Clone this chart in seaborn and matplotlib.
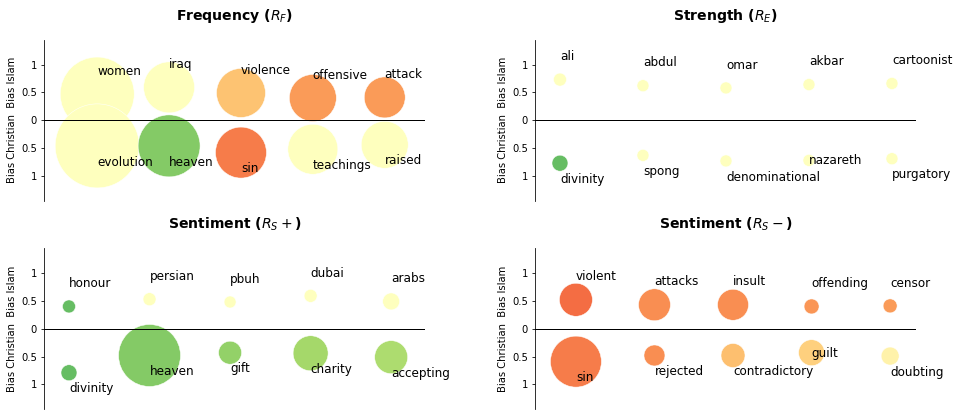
import pandas as pd
import seaborn as sns
import matplotlib.pyplot as plt

# Each panel: first five words lean Islam (positive bias), last five lean Christian (negative).
# size = relative word frequency (bubble area), sent = sentiment score used for colour
freq_words = ['women', 'iraq', 'violence', 'offensive', 'attack',
              'evolution', 'heaven', 'sin', 'teachings', 'raised']
freq_bias = [0.47, 0.59, 0.49, 0.40, 0.41, -0.46, -0.46, -0.58, -0.52, -0.44]
freq_size = [54.8, 26.0, 24.0, 22.1, 16.8, 70.6, 38.4, 26.0, 25.0, 22.1]
freq_sent = [0, 0, -0.32, -0.46, -0.46, 0, 0.5, -0.55, 0, 0]

strength_words = ['ali', 'abdul', 'omar', 'akbar', 'cartoonist',
                  'divinity', 'spong', 'denominational', 'nazareth', 'purgatory']
strength_bias = [0.73, 0.62, 0.58, 0.64, 0.66, -0.77, -0.63, -0.73, -0.72, -0.69]
strength_size = [1.69, 1.44, 1.44, 1.44, 1.44, 2.56, 1.44, 1.44, 1.44, 1.44]
strength_sent = [0, 0, 0, 0, 0, 0.6, 0, 0, 0, 0]

pos_words = ['honour', 'persian', 'pbuh', 'dubai', 'arabs',
             'divinity', 'heaven', 'gift', 'charity', 'accepting']
pos_bias = [0.40, 0.53, 0.48, 0.59, 0.49, -0.79, -0.48, -0.43, -0.44, -0.51]
pos_size = [1.69, 1.69, 1.44, 1.69, 2.89, 2.56, 38.4, 5.29, 12.25, 10.9]
pos_sent = [0.6, 0, 0, 0, 0, 0.6, 0.5, 0.46, 0.4, 0.37]

neg_words = ['violent', 'attacks', 'insult', 'offending', 'censor',
             'sin', 'rejected', 'contradictory', 'guilt', 'doubting']
neg_bias = [0.52, 0.43, 0.43, 0.40, 0.41, -0.59, -0.48, -0.48, -0.43, -0.49]
neg_size = [10.9, 10.2, 9.6, 2.25, 1.96, 26.0, 4.41, 5.76, 6.76, 3.24]
neg_sent = [-0.6, -0.5, -0.5, -0.47, -0.46, -0.55, -0.5, -0.33, -0.26, -0.08]

panels = [
    ('Frequency ($R_F$)', freq_words, freq_bias, freq_size, freq_sent, (-0.74, 4.56)),
    ('Strength ($R_E$)', strength_words, strength_bias, strength_size, strength_sent, (-0.30, 4.29)),
    ('Sentiment ($R_S+$)', pos_words, pos_bias, pos_size, pos_sent, (-0.31, 4.42)),
    ('Sentiment ($R_S-$)', neg_words, neg_bias, neg_size, neg_sent, (-0.52, 4.33)),
]

# labels that sit next to their bubble instead of above/below it
label_at_bubble = {'nazareth': 0.0, 'guilt': -0.02}

fig, axes = plt.subplots(2, 2, figsize=(959 / 72, 419 / 72), dpi=72)
fig.subplots_adjust(left=0.0459, right=0.9552, top=0.9045, bottom=0.0239,
                    wspace=0.289, hspace=0.299)

for ax, (title, words, bias, size, sent, xlim) in zip(axes.flat, panels):
    df = pd.DataFrame({'word': words, 'bias': bias, 'size': size, 'sent': sent})
    df['pos'] = df.index % 5

    sns.scatterplot(data=df, x='pos', y='bias', hue='sent', size='size',
                    palette='RdYlGn', hue_norm=(-1, 1),
                    sizes=(0, 10000), size_norm=(0, 100),
                    edgecolor='white', linewidth=0.5, alpha=1,
                    legend=False, ax=ax)

    for _, r in df.iterrows():
        if r['word'] in label_at_bubble:
            ty = r['bias'] + label_at_bubble[r['word']]
        elif r['bias'] > 0:
            ty = r['bias'] + 0.41
        else:
            ty = r['bias'] - 0.29
        ax.text(r['pos'], ty, r['word'], fontsize=12, ha='left', va='center')

    ax.axhline(0, color='black', lw=1)
    ax.set_xlim(*xlim)
    ax.set_ylim(-1.44, 1.44)
    ax.set_yticks([1, 0.5, 0, -0.5, -1])
    ax.set_yticklabels(['1', '0.5', '0', '0.5', '1'])
    ax.set_xticks([])
    ax.set_xlabel('')
    ax.set_ylabel('Bias Christian  Bias Islam', fontsize=10)
    for side in ['top', 'right', 'bottom']:
        ax.spines[side].set_visible(False)
    ax.set_title(title, fontsize=14, fontweight='bold', pad=20)

fig.savefig('out.png', dpi=72)
